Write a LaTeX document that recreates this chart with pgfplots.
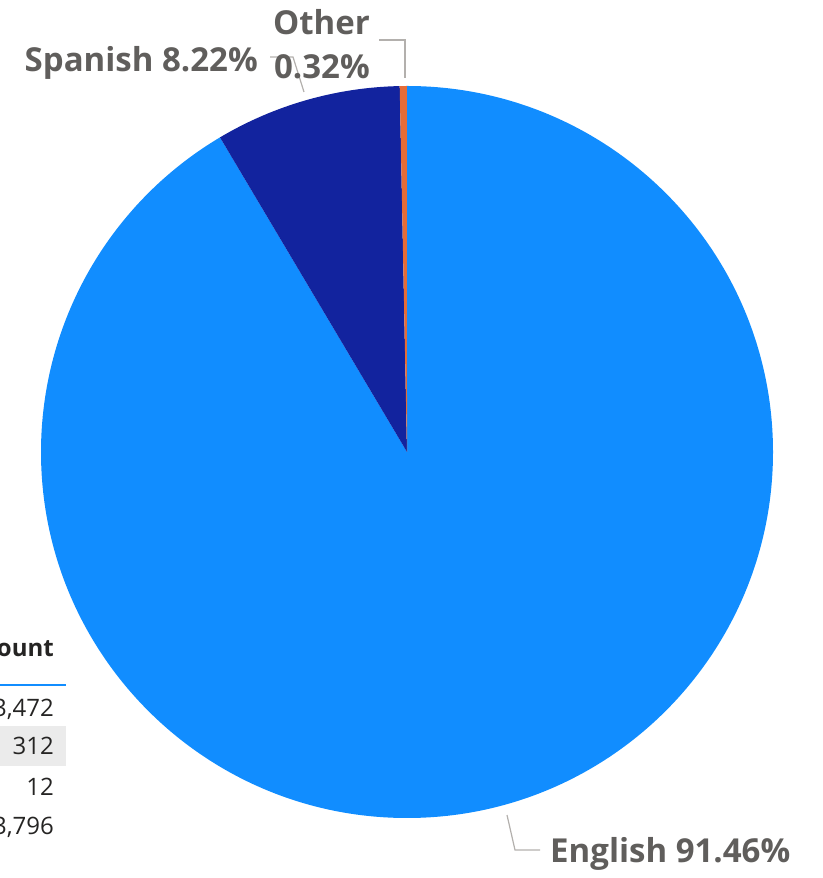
\documentclass[border=0pt]{standalone}
\usepackage{pgfplots}
\usepackage{pgfplotstable}
\pgfplotsset{compat=1.18}
\usepackage{fontspec}
\setmainfont{Open Sans}

\definecolor{pbblue}{HTML}{118DFF}
\definecolor{pbnavy}{HTML}{12239E}
\definecolor{pborange}{HTML}{E66C37}
\definecolor{lblgray}{HTML}{605E5C}
\definecolor{leadgray}{HTML}{B3B0AD}
\definecolor{tabtext}{HTML}{252423}
\definecolor{rowgray}{HTML}{EBEBEB}

\pgfplotstableread{
label count
English 3472
Spanish 312
Other 12
}\langdata

\pgfplotstablegetelem{0}{count}\of\langdata\let\nEn\pgfplotsretval
\pgfplotstablegetelem{1}{count}\of\langdata\let\nEs\pgfplotsretval
\pgfplotstablegetelem{2}{count}\of\langdata\let\nOt\pgfplotsretval
\pgfmathsetmacro\total{\nEn+\nEs+\nOt}
% slices start at 12 o'clock and run clockwise
\pgfmathsetmacro\aA{90}
\pgfmathsetmacro\aB{\aA-\nEn/\total*360}
\pgfmathsetmacro\aC{\aB-\nEs/\total*360}
\pgfmathsetmacro\aD{\aC-\nOt/\total*360}

\newcommand\slice[3]{%
  \fill[#3] (axis cs:407,426) -- ([shift={(#1:366pt)}]axis cs:407,426)
    arc[start angle=#1, end angle=#2, radius=366pt] -- cycle;}

\begin{document}
\begin{tikzpicture}
\begin{axis}[
    name=ax,
    hide axis,
    scale only axis,
    width=822pt, height=878pt,
    xmin=0, xmax=822,
    ymin=0, ymax=878,
]
\slice{\aA}{\aB}{pbblue}
\slice{\aB}{\aC}{pbnavy}
\slice{\aC}{\aD}{pborange}

% leader lines
\draw[leadgray, line width=1.2pt] (axis cs:405,800) -- (axis cs:405,838) -- (axis cs:379,838);
\draw[leadgray, line width=1.2pt] (axis cs:304,786) -- (axis cs:293,821) -- (axis cs:270,821);
\draw[leadgray, line width=1.2pt] (axis cs:507,63) -- (axis cs:515,28) -- (axis cs:540,28);

% data labels
\begin{scope}[every node/.style={text=lblgray, inner sep=0pt, font=\fontsize{33}{40}\selectfont\bfseries}]
\node[anchor=base east] at (axis cs:370,843) {Other};
\node[anchor=base east] at (axis cs:370,799) {0.32\%};
\node[anchor=base east] at (axis cs:258,806) {Spanish 8.22\%};
\node[anchor=base west] at (axis cs:550,15) {English 91.46\%};
\end{scope}

% partially visible table at the left
\fill[rowgray] (axis cs:-10,112) rectangle (axis cs:66,152);
\draw[pbblue, line width=2pt] (axis cs:-10,193) -- (axis cs:66,193);
\begin{scope}[every node/.style={text=tabtext, inner sep=0pt, anchor=base east, font=\fontsize{24}{28}\selectfont}]
\node[font=\fontsize{24}{28}\selectfont\bfseries] at (axis cs:54,221) {Count};
\node at (axis cs:54,161) {3,472};
\node at (axis cs:54,123) {312};
\node at (axis cs:54,82) {12};
\node at (axis cs:54,43) {3,796};
\end{scope}
\end{axis}
\pgfresetboundingbox
\path[use as bounding box] (ax.south west) rectangle (ax.north east);
\end{tikzpicture}
\end{document}
